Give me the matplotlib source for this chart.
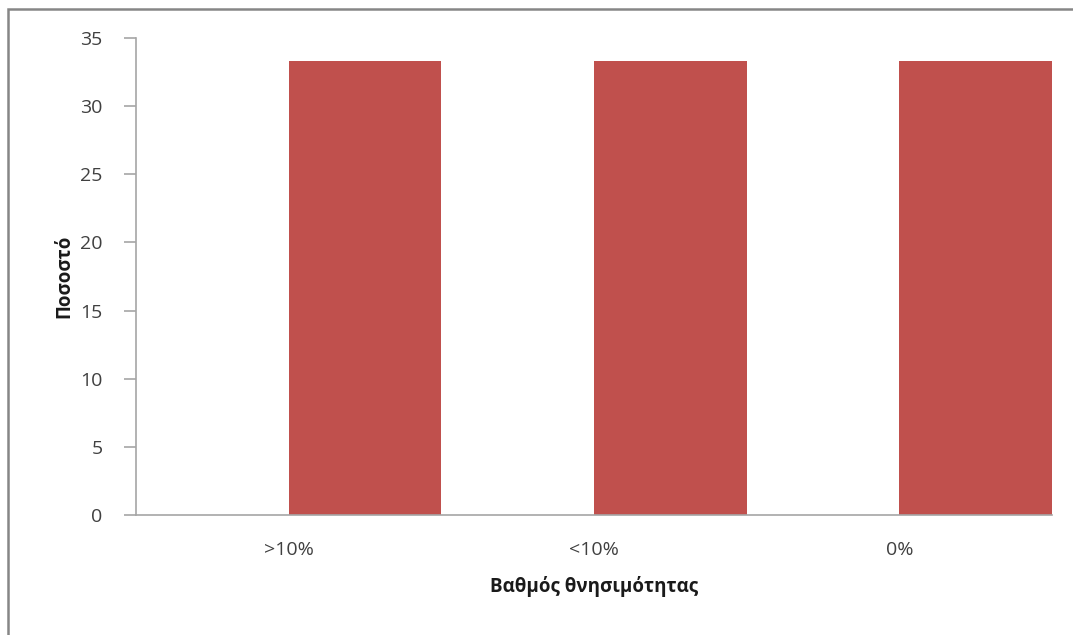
import matplotlib
matplotlib.use("Agg")
import matplotlib.pyplot as plt
from matplotlib.patches import Rectangle
import numpy as np

categories = [">10%", "<10%", "0%"]
series1 = [0, 0, 0]
series2 = [33.33, 33.33, 33.33]
yticks = [0, 5, 10, 15, 20, 25, 30, 35]

plt.rcParams['font.family'] = ['Open Sans', 'DejaVu Sans']

W, H = 1073, 635
fig = plt.figure(figsize=(W / 100, H / 100), dpi=100)
fig.patch.set_facecolor('white')

# outer chart border (cropped at right and bottom)
fig.patches.append(Rectangle((8 / W, -0.1), 1.2, (H - 9) / H + 0.1,
                             transform=fig.transFigure, fill=False,
                             edgecolor='#868686', linewidth=1.8))

ax = fig.add_axes([136 / W, 1 - 515 / H, (1052 - 136) / W, (515 - 38) / H])
x = np.arange(len(categories))
ax.bar(x - 0.25, series1, width=0.5, color='#4F81BD')
ax.bar(x + 0.25, series2, width=0.5, color='#C0504D')

ax.set_xlim(-0.5, len(categories) - 0.5)
ax.set_ylim(0, 35)
ax.set_yticks(yticks)
ax.set_xticks(x)
ax.set_xticklabels(categories)

for s in ['top', 'right']:
    ax.spines[s].set_visible(False)
for s in ['left', 'bottom']:
    ax.spines[s].set_color('#A6A6A6')
    ax.spines[s].set_linewidth(1.2)

ax.tick_params(axis='y', length=9, width=1.2, color='#A6A6A6',
               labelsize=14, labelcolor='#404040', pad=15)
ax.tick_params(axis='x', length=0, labelsize=14, labelcolor='#404040', pad=19)

ax.set_ylabel('Ποσοστό', fontsize=13.5, fontweight='bold', color='#1a1a1a', labelpad=4)
ax.set_xlabel('Βαθμός θνησιμότητας', fontsize=13.5, fontweight='bold', color='#1a1a1a', labelpad=12)

fig.savefig('out.png', dpi=100)
